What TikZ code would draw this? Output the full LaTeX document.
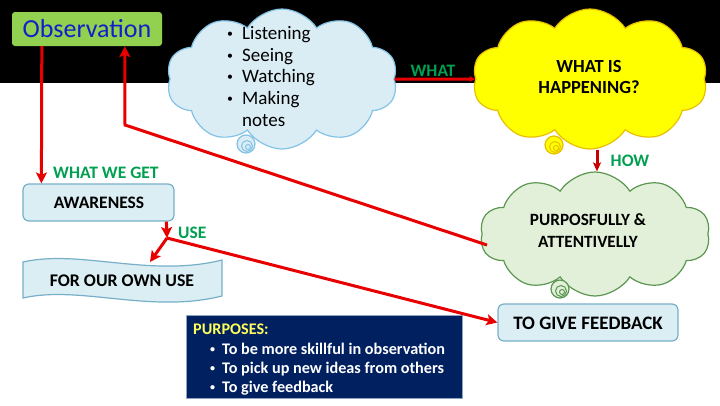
\documentclass[tikz,border=0pt]{standalone}
\usepackage{fontspec}
\setmainfont{Carlito}
\usetikzlibrary{shapes.symbols,arrows.meta}
\definecolor{obsgreen}{RGB}{146,208,80}
\definecolor{obsblue}{RGB}{16,32,200}
\definecolor{lblue}{RGB}{218,238,243}
\definecolor{lbluedraw}{RGB}{120,175,200}
\definecolor{cloudblue}{RGB}{218,236,244}
\definecolor{cloudbluedraw}{RGB}{130,195,230}
\definecolor{yel}{RGB}{255,255,0}
\definecolor{yeldraw}{RGB}{232,192,0}
\definecolor{lgreen}{RGB}{226,240,217}
\definecolor{greendraw}{RGB}{90,150,80}
\definecolor{lblgreen}{RGB}{0,160,80}
\definecolor{arrred}{RGB}{232,0,0}
\definecolor{darkred}{RGB}{200,0,0}
\definecolor{navy}{RGB}{0,32,96}
\definecolor{navydraw}{RGB}{140,165,195}
\definecolor{purpyellow}{RGB}{255,255,90}
\newcommand{\smallbul}{\raisebox{0.22ex}{\scalebox{0.62}{\textbullet}}}
\begin{document}
\begin{tikzpicture}[x=1pt,y=-1pt,
  redarrow/.style={draw=arrred, line width=3pt, line join=miter, -{Stealth[length=11pt,width=11pt,inset=2.5pt]}},
  howarrow/.style={draw=darkred, line width=3pt, -{Stealth[length=9pt,width=8pt,inset=2pt]}},
  lbl/.style={text=lblgreen, font=\fontsize{17.5}{19}\selectfont\bfseries, inner sep=0pt},
  lbox/.style={draw=lbluedraw, fill=lblue, line width=1.2pt, rounded corners=6pt, inner sep=0pt},
  boxtext/.style={font=\fontsize{17.5}{20}\selectfont\bfseries, text=black},
  cloudbase/.style={cloud, cloud puffs=10, cloud puff arc=115, cloud ignores aspect, line width=1.2pt, inner sep=0pt},
  cltext/.style={font=\fontsize{19}{22}\selectfont, text=black, inner sep=0pt},
  purptext/.style={font=\fontsize{16.2}{19}\selectfont\bfseries, text=white, inner sep=0pt}
]
\useasboundingbox (0,0) rectangle (720,405);
\fill[black] (0,0) rectangle (720,83);

% Observation box
\node[fill=obsgreen, rounded corners=3pt, minimum width=150pt, minimum height=34pt, inner sep=0pt,
      text=obsblue, font=\fontsize{26}{28}\selectfont] (obs) at (87,29) {Observation};

% blue cloud
\node[cloudbase, fill=cloudblue, draw=cloudbluedraw, minimum width=231pt, minimum height=140pt] (bc) at (282,79) {};
\draw[cloudbluedraw, fill=cloudblue, line width=1.2pt] (246,144) circle (9);
\draw[cloudbluedraw, line width=1pt] (247,146) circle (5.5);
\draw[cloudbluedraw, line width=1pt] (248,147) circle (2.5);
\node[cltext, anchor=base west] (l1) at (227,39) {\makebox[15pt][l]{\smallbul}Listening};
\node[cltext, anchor=base west] (l2) at (227,61) {\makebox[15pt][l]{\smallbul}Seeing};
\node[cltext, anchor=base west] (l3) at (227,82) {\makebox[15pt][l]{\smallbul}Watching};
\node[cltext, anchor=base west] (l4) at (227,104) {\makebox[15pt][l]{\smallbul}Making};
\node[cltext, anchor=base west] (l5) at (242,126) {notes};

% yellow cloud
\node[cloudbase, fill=yel, draw=yeldraw, minimum width=235pt, minimum height=140pt] (yc) at (590,79) {};
\draw[yeldraw, fill=yel, line width=1.2pt] (554,145) circle (9);
\draw[yeldraw, line width=1pt] (555,147) circle (5.5);
\draw[yeldraw, line width=1pt] (556,148) circle (2.5);
\node[boxtext, font=\fontsize{18.5}{21.5}\selectfont\bfseries, align=center] (yt) at (589,77) {WHAT IS\\HAPPENING?};

% green cloud
\node[cloudbase, fill=lgreen, draw=greendraw, minimum width=230pt, minimum height=124pt] (gc) at (595,234) {};
\draw[greendraw, fill=lgreen, line width=1.2pt] (560,289) circle (9);
\draw[greendraw, line width=1pt] (561,291) circle (5.5);
\draw[greendraw, line width=1pt] (562,292) circle (2.5);
\node[boxtext, font=\fontsize{17.2}{22}\selectfont\bfseries, align=center] (gt) at (588,231) {PURPOSFULLY \&\\ATTENTIVELLY};

% boxes
\node[lbox, minimum width=151pt, minimum height=37pt] (aw) at (98.5,202.5) {};
\node[boxtext] (awt) at (99,203) {AWARENESS};
\node[lbox, minimum width=180pt, minimum height=37pt] (fb) at (588,322.5) {};
\node[boxtext, font=\fontsize{19}{20}\selectfont\bfseries] (fbt) at (588,323) {TO GIVE FEEDBACK};

% banner
\draw[lbluedraw, fill=lblue, line width=1.2pt]
  (23,262) .. controls (80,249) and (150,278) .. (222,260) -- (222,296)
  .. controls (150,314) and (80,285) .. (23,298) -- cycle;
\node[boxtext, font=\fontsize{17.8}{20}\selectfont\bfseries] (bt) at (122,281) {FOR OUR OWN USE};

% purposes box
\node[fill=navy, draw=navydraw, line width=1pt, minimum width=276pt, minimum height=83pt, inner sep=0pt] (pb) at (324,356.5) {};
\node[purptext, text=purpyellow, anchor=base west] (p0) at (193,334) {PURPOSES:};
\node[purptext, anchor=base west] (p1) at (210,354) {\makebox[12pt][l]{\smallbul}To be more skillful in observation};
\node[purptext, anchor=base west] (p2) at (210,373) {\makebox[12pt][l]{\smallbul}To pick up new ideas from others};
\node[purptext, anchor=base west] (p3) at (210,392) {\makebox[12pt][l]{\smallbul}To give feedback};

% coordinates
\coordinate (j) at (167,238);
\coordinate (gcL) at (487,245);
\coordinate (banL) at (150,262);

% arrows
\draw[redarrow] ([xshift=30pt]obs.south west) -- ([xshift=19pt]aw.north west);
\draw[redarrow] (gcL) -- (125,125) -- ([xshift=113pt]obs.south west);
\draw[redarrow, -{Stealth[length=6pt,width=6pt]}] (bc.east) -- (yc.west);
\draw[howarrow] ([xshift=7pt]yc.south) -- ([xshift=7pt]yc.south |- gc.north);
\draw[redarrow] ([xshift=144pt]aw.south west) -- (j);
\draw[redarrow] (j) -- (banL);
\draw[redarrow] (j) -- (fb.west);

% labels
\node[lbl] (what) at (433,71) {WHAT};
\node[lbl] (how) at (630,161) {HOW};
\node[lbl, anchor=west] (wwg) at (53,173) {WHAT WE GET};
\node[lbl, anchor=west] (use) at (178,233) {USE};
\end{tikzpicture}
\end{document}
